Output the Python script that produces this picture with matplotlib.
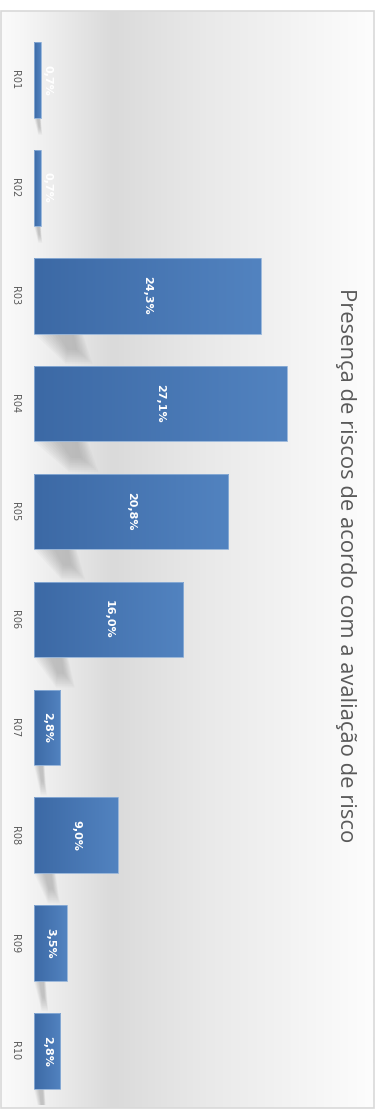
import numpy as np
import matplotlib
matplotlib.use("Agg")
import matplotlib.pyplot as plt
from matplotlib.colors import LinearSegmentedColormap
from matplotlib.patches import Rectangle, Polygon

categories = ['R01', 'R02', 'R03', 'R04', 'R05', 'R06', 'R07', 'R08', 'R09', 'R10']
values = [0.7, 0.7, 24.3, 27.1, 20.8, 16.0, 2.8, 9.0, 3.5, 2.8]
value_labels = ['0,7%', '0,7%', '24,3%', '27,1%', '20,8%', '16,0%', '2,8%', '9,0%', '3,5%', '2,8%']
title = 'Presença de riscos de acordo com a avaliação de risco'

W, H = 378, 1110
fig = plt.figure(figsize=(W / 100, H / 100), dpi=100)

# background panel with the grey band gradient
bg = fig.add_axes([0, 0, 1, 1])
bg.set_xlim(0, W)
bg.set_ylim(H, 0)
bg.axis('off')
bg_cmap = LinearSegmentedColormap.from_list(
    'bg', [(0, '#fbfbfb'), (0.06, '#f6f6f6'), (0.30, '#dadada'),
           (0.36, '#dedede'), (0.55, '#e9e9e9'), (0.80, '#f4f4f4'), (1, '#fdfdfd')])
grad = np.linspace(0, 1, 256).reshape(1, -1)
bg.imshow(grad, cmap=bg_cmap, extent=(1, 374, 1108, 11), aspect='auto')
bg.add_patch(Rectangle((1, 11), 373, 1097, fill=False, edgecolor='#d9d9d9', lw=1.2))

# plot area
ax = fig.add_axes([34 / W, 5 / H, 280 / W, 1079 / H])
ax.set_facecolor('none')
ax.set_xlim(0, 30)
ax.set_ylim(len(categories) - 0.5, -0.5)
y = np.arange(len(categories))
bar_h = 0.7

bar_cmap = LinearSegmentedColormap.from_list('bar', ['#3c69a5', '#5283c0'])

for i, v in enumerate(values):
    # soft perspective shadow under each bar (nested layers = blur)
    top = i + bar_h / 2
    r = 0.6 + v * 0.19
    d = 0.28 if v > 2 else 0.16
    base = np.array([(0, top), (r, top), (1.2 * r, top + d), (0.65 * r, top + d)])
    cx = base[:, 0].mean()
    for s in np.linspace(1.0, 0.35, 9):
        pts = base.copy()
        pts[:, 0] = cx + (pts[:, 0] - cx) * s
        pts[:, 1] = top + (pts[:, 1] - top) * (0.3 + 0.7 * s)
        ax.add_patch(Polygon(pts, closed=True, facecolor='#6e6e6e', edgecolor='none',
                             alpha=0.045, zorder=1))
    rect = Rectangle((0, i - bar_h / 2), v, bar_h, facecolor='none',
                     edgecolor='#8fb0d8', lw=0.6, zorder=3)
    ax.add_patch(rect)
    im = ax.imshow(grad, cmap=bar_cmap, extent=(0, v, i + bar_h / 2, i - bar_h / 2),
                   aspect='auto', zorder=2)
    im.set_clip_path(rect)
    ax.text(max(v / 2, 1.4), i, value_labels[i], rotation=-90, ha='center', va='center',
            color='white', fontsize=8, fontweight='bold', zorder=4)

ax.set_yticks(y)
ax.set_yticklabels(categories, rotation=-90, va='center', ha='center',
                   fontsize=7, color='#595959')
ax.tick_params(axis='y', length=0, pad=14)
ax.set_xticks([])
for sp in ax.spines.values():
    sp.set_visible(False)

fig.text(345 / W, 1 - 565 / H, title, rotation=-90, ha='center', va='center',
         fontsize=15.8, color='#595959', family='Open Sans')

fig.savefig('out.png', dpi=100)
